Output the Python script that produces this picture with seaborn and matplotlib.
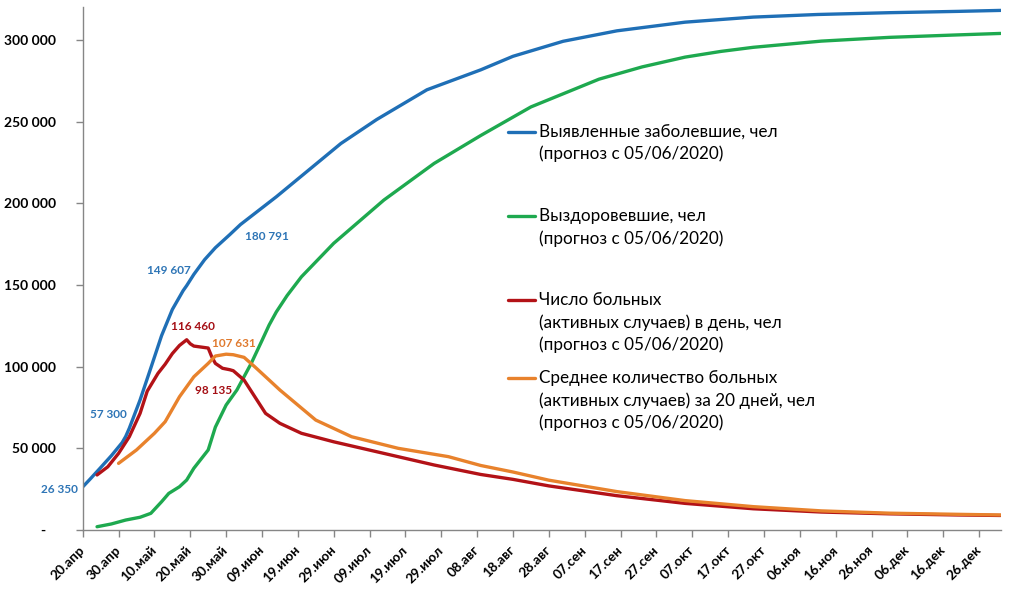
import numpy as np
import pandas as pd
import matplotlib
matplotlib.use("Agg")
import matplotlib.pyplot as plt
import matplotlib.dates as mdates
from matplotlib import font_manager
from matplotlib.lines import Line2D
import seaborn as sns

# ---------------- data ----------------
START = pd.Timestamp("2020-04-20")
END = pd.Timestamp("2021-01-01")

detected_days = [0, 2, 5, 8, 11, 12, 13, 16, 19, 22, 25, 28, 29, 31, 34, 37, 41, 44, 54, 63,
                 72, 82, 96, 111, 120, 134, 149, 168, 187, 205, 225, 244, 256]
detected_vals = [26350, 31000, 38200, 45500, 53500, 57300, 62300, 79600, 99200, 119000,
                 135000, 146500, 149607, 156500, 165500, 172800, 180791, 187000, 204000,
                 220300, 236600, 251300, 269500, 281700, 290000, 299200, 305600, 310900,
                 314000, 315600, 316700, 317500, 318100]

recovered_days = [4, 8, 12, 16, 19, 22, 24, 27, 29, 31, 35, 37, 40, 43, 47, 50, 52, 54, 57,
                  61, 70, 84, 98, 111, 125, 144, 156, 168, 178, 187, 206, 225, 244, 256]
recovered_vals = [2000, 3700, 6100, 7800, 10200, 17300, 22400, 26500, 30600, 37800, 49000,
                  63000, 76500, 85700, 102000, 116000, 125500, 133500, 143500, 155000,
                  175500, 202000, 224400, 241500, 259000, 276000, 283500, 289500, 293000,
                  295500, 299300, 301600, 303100, 304000]

active_days = [4, 7, 10, 13, 16, 18, 21, 23, 25, 27, 29, 30, 31, 35, 36, 37, 39, 41, 42, 45,
               48, 51, 55, 61, 70, 84, 98, 111, 120, 130, 149, 168, 187, 206, 225, 244, 256]
active_vals = [33700, 38700, 46900, 57100, 71400, 85000, 95900, 101500, 108000, 113000,
               116460, 114000, 112600, 111400, 106000, 102000, 99000, 98135, 97500, 91800,
               81600, 71400, 65300, 59200, 54000, 46900, 39800, 34000, 31000, 27000, 21000,
               16300, 13000, 11000, 9900, 9200, 8900]

avg20_days = [10, 15, 20, 23, 27, 31, 35, 37, 40, 42, 45, 48, 52, 55, 65, 75, 88, 102, 111,
              120, 130, 149, 168, 187, 206, 225, 244, 256]
avg20_vals = [40800, 49000, 59200, 66300, 81600, 93800, 102000, 106500, 107631, 107300,
              105700, 99900, 91800, 85700, 67300, 57100, 50000, 44900, 39500, 35500, 30500,
              23500, 18000, 14300, 11700, 10300, 9600, 9200]

series_names = [
    "Выявленные заболевшие, чел\n(прогноз с 05/06/2020)",
    "Выздоровевшие, чел\n(прогноз с 05/06/2020)",
    "Число больных\n(активных случаев) в день, чел\n(прогноз с 05/06/2020)",
    "Среднее количество больных\n(активных случаев) за 20 дней, чел\n(прогноз с 05/06/2020)",
]
series_colors = ["#1F6FB6", "#1EA94F", "#B31217", "#E8822C"]

month_abbr = {1: "янв", 2: "фев", 3: "мар", 4: "апр", 5: "май", 6: "июн", 7: "июл",
              8: "авг", 9: "сен", 10: "окт", 11: "ноя", 12: "дек"}

# data labels: text, (day, value) of label position, colour, alignment
label_texts = ["26 350", "57 300", "149 607", "180 791", "116 460", "107 631", "98 135"]
label_days = [-1.3, 12.35, 23.9, 51.3, 30.8, 42.2, 36.4]
label_vals = [25100, 71000, 158700, 179500, 124400, 114300, 85700]
label_colors = ["#2E75B6", "#2E75B6", "#2E75B6", "#2E75B6", "#A50F15", "#E07A2E", "#A50F15"]
label_ha = ["right", "right", "center", "center", "center", "center", "center"]

# ---------------- fonts ----------------
def has_cyrillic(name):
    try:
        from fontTools.ttLib import TTFont
        path = font_manager.findfont(name, fallback_to_default=False)
        f = TTFont(path, fontNumber=0)
        cmap = f.getBestCmap()
        return all(ord(c) in cmap for c in "ЖыВч")
    except Exception:
        return False

FONT = next((f for f in ["Lato", "Open Sans", "Liberation Sans"] if has_cyrillic(f)), "DejaVu Sans")

sns.set_theme(style="white")
plt.rcParams["font.family"] = [FONT, "DejaVu Sans"]

# ---------------- build frame ----------------
frames = []
for name, days, vals in zip(series_names,
                            [detected_days, recovered_days, active_days, avg20_days],
                            [detected_vals, recovered_vals, active_vals, avg20_vals]):
    frames.append(pd.DataFrame({
        "date": START + pd.to_timedelta(days, unit="D"),
        "value": vals,
        "series": name,
    }))
df = pd.concat(frames, ignore_index=True)

# ---------------- figure ----------------
fig = plt.figure(figsize=(10.18, 5.98), dpi=100)
ax = fig.add_axes([82.7 / 1018, 1 - 530 / 598, (1000.6 - 82.7) / 1018, (530 - 7.3) / 598])

sns.lineplot(data=df, x="date", y="value", hue="series", hue_order=series_names,
             palette=dict(zip(series_names, series_colors)), linewidth=2.4,
             legend=False, ax=ax, sort=True, estimator=None)

ax.set_xlim(START, END)
ax.set_ylim(0, 320000)
ax.set_xlabel("")
ax.set_ylabel("")

# y axis
yt = np.arange(0, 300001, 50000)
ax.set_yticks(yt)
ax.set_yticklabels(["-   " if v == 0 else f"{v:,}".replace(",", " ") for v in yt],
                   fontsize=10, fontweight="bold", color="black")

# x axis
xt = pd.date_range(START, periods=26, freq="10D")
ax.set_xticks(xt)
ax.set_xticklabels([f"{d.day:02d}.{month_abbr[d.month]}" for d in xt],
                   fontsize=9.8, fontweight="bold", color="black",
                   rotation=45, ha="right", va="center", rotation_mode="anchor")

for s in ["top", "right"]:
    ax.spines[s].set_visible(False)
for s in ["left", "bottom"]:
    ax.spines[s].set_color("#868686")
    ax.spines[s].set_linewidth(1.0)
ax.tick_params(axis="both", which="major", direction="out", length=5, width=1.0,
               color="#868686", left=True, bottom=True)
ax.tick_params(axis="y", pad=14)
ax.tick_params(axis="x", pad=8)
ax.grid(False)

# data labels
for t, d, v, c, ha in zip(label_texts, label_days, label_vals, label_colors, label_ha):
    ax.text(mdates.date2num(START + pd.Timedelta(days=d)), v, t, color=c,
            fontsize=8.5, fontweight="bold", ha=ha, va="center")

# legend (drawn manually to mirror the reference layout)
ax_h = 530 - 7.3
def ay(py):
    return (530 - py) / ax_h
def axx(px):
    return (px - 82.7) / (1000.6 - 82.7)

first_line_y = [131.7, 216, 300, 378]
line_step = 22.5
for name, col, y0 in zip(series_names, series_colors, first_line_y):
    ax.add_line(Line2D([axx(508), axx(535)], [ay(y0), ay(y0)], color=col, linewidth=2.4,
                       transform=ax.transAxes, clip_on=False))
    for i, part in enumerate(name.split("\n")):
        ax.text(axx(539), ay(y0 + i * line_step), part, transform=ax.transAxes,
                fontsize=12.3, ha="left", va="center", color="black")

fig.savefig("out.png", dpi=100, facecolor="white")
